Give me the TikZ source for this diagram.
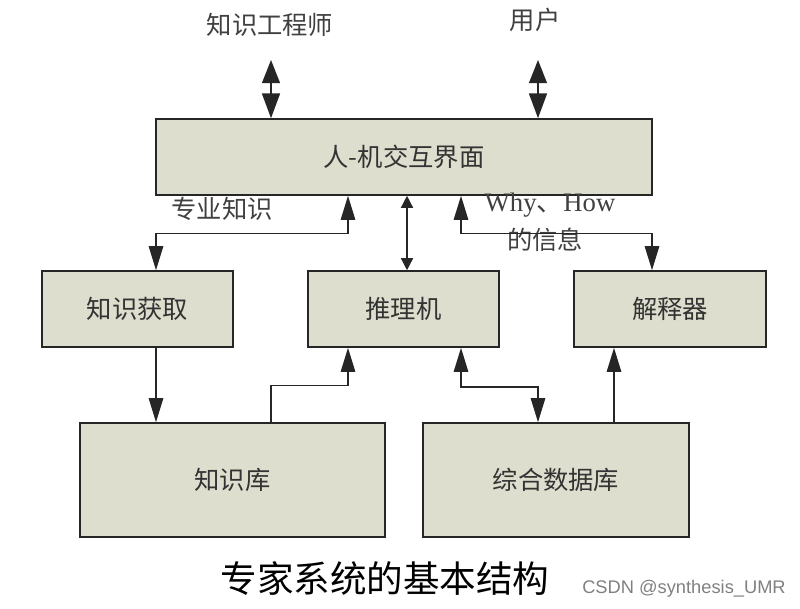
\documentclass[tikz,border=0pt]{standalone}
\usepackage{fontspec}
\setmainfont{Liberation Serif}
\newfontfamily\cjk{Noto Sans CJK SC}
\newfontfamily\wmfont{Liberation Sans}
\usetikzlibrary{arrows.meta}
\definecolor{boxfill}{RGB}{221,222,205}

\begin{document}
\begin{tikzpicture}[x=0.025cm, y=-0.025cm,
  box/.style={draw=black!85, fill=boxfill, line width=1.1pt, inner sep=0pt,
    minimum height=1.9cm, text=black!80, font=\cjk\fontsize{18}{18}\selectfont},
  lbl/.style={inner sep=1pt, text=black!75, font=\cjk\fontsize{18}{18}\selectfont},
  conn/.style={draw=black!85, line width=1pt},
  arr/.style={conn, -{Triangle[length=0.6cm,width=0.36cm]}},
  darr/.style={conn, {Triangle[length=0.6cm,width=0.36cm]}-{Triangle[length=0.6cm,width=0.36cm]}},
  bigdarr/.style={conn, {Triangle[length=0.58cm,width=0.45cm]}-{Triangle[length=0.62cm,width=0.45cm]}},
  smalldarr/.style={conn, {Triangle[length=0.3cm,width=0.3cm]}-{Triangle[length=0.3cm,width=0.3cm]}}]
\useasboundingbox (0,0) rectangle (800,608);

% columns of the connectors
\path (156,0) coordinate (c1) (271,0) coordinate (c2) (348,0) coordinate (c3)
      (407,0) coordinate (c4) (461,0) coordinate (c5) (538,0) coordinate (c6)
      (614,0) coordinate (c7) (652,0) coordinate (c8);

% boxes
\node[box, minimum width=12.4cm] (hci) at (404,157) {人-机交互界面};
\node[box, minimum width=4.78cm] (zshq) at (137.5,309) {知识获取};
\node[box, minimum width=4.78cm] (tlj) at (403.5,309) {推理机};
\node[box, minimum width=4.8cm] (jsq) at (670,309) {解释器};
\node[box, minimum width=7.63cm, minimum height=2.85cm] (zsk) at (232.5,480) {知识库};
\node[box, minimum width=6.65cm, minimum height=2.85cm] (sjk) at (556,480) {综合数据库};

% outside
\node[lbl] (eng) at (270,25) {知识工程师};
\node[lbl] (user) at (535,20) {用户};
\coordinate (engend) at (271,60);
\coordinate (userend) at (538,60);
\draw[bigdarr] (engend) -- (hci.north -| engend);
\draw[bigdarr] (userend) -- (hci.north -| userend);

% labels
\node[lbl] (zszs) at (222,209) {专业知识};
\node[lbl, font=\fontsize{19}{19}\selectfont] (why) at (550,205) {Why{\cjk 、}How};
\node[lbl] (info) at (545,240) {的信息};

% connectors
\draw[darr] (zshq.north -| c1) -- ++(0,-37) -| (hci.south -| c3);
\draw[smalldarr] (hci.south -| c4) -- (tlj.north -| c4);
\draw[darr] (hci.south -| c5) -- ++(0,38) -| (jsq.north -| c8);
\draw[arr] (zshq.south -| c1) -- (zsk.north -| c1);
\draw[arr] (zsk.north -| c2) -- ++(0,-37) -| (tlj.south -| c3);
\draw[darr] (tlj.south -| c5) -- ++(0,39) -| (sjk.north -| c6);
\draw[arr] (sjk.north -| c7) -- (jsq.south -| c7);

% caption
\node[font=\cjk\fontsize{26}{26}\selectfont] (title) at (385,578) {专家系统的基本结构};
\node[font=\wmfont\fontsize{13}{13}\selectfont, text=black!50] (mark) at (684,589) {CSDN @synthesis\_UMR};
\end{tikzpicture}
\end{document}
